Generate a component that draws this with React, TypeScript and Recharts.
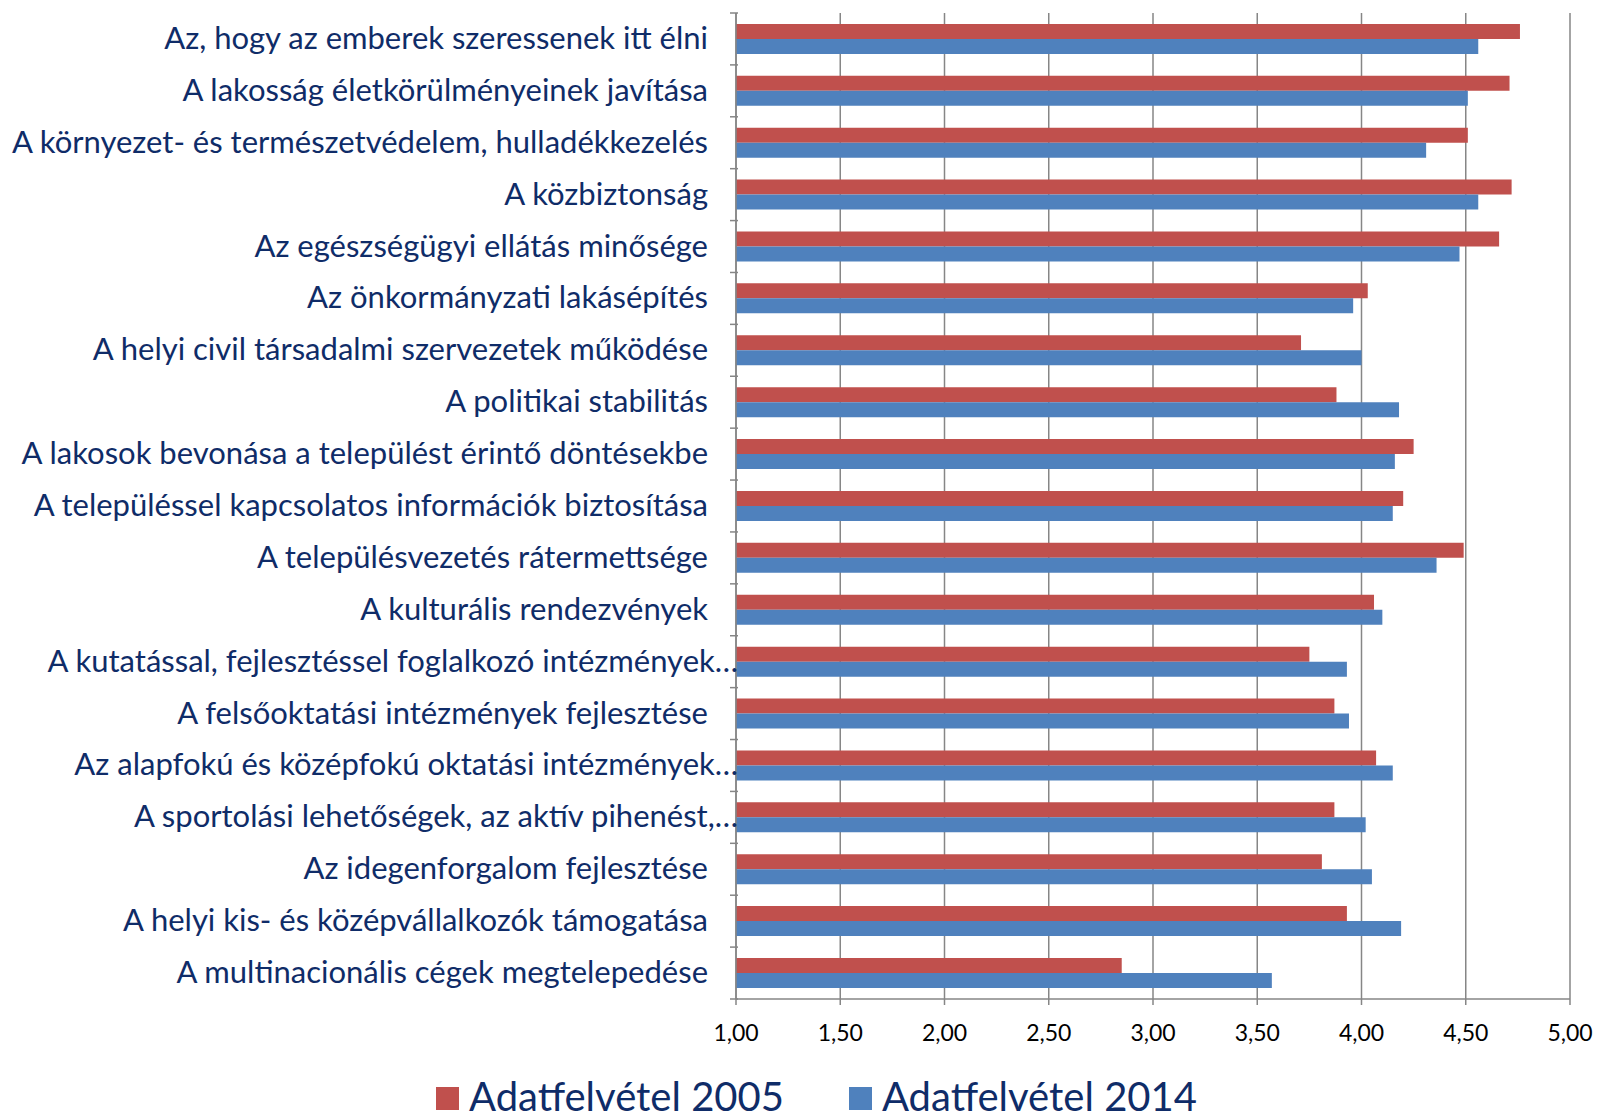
import React from 'react';
import { BarChart, Bar, XAxis, YAxis, CartesianGrid, Legend } from 'recharts';

const categories = [
  'Az, hogy az emberek szeressenek itt élni',
  'A lakosság életkörülményeinek javítása',
  'A környezet- és természetvédelem, hulladékkezelés',
  'A közbiztonság',
  'Az egészségügyi ellátás minősége',
  'Az önkormányzati lakásépítés',
  'A helyi civil társadalmi szervezetek működése',
  'A politikai stabilitás',
  'A lakosok bevonása a települést érintő döntésekbe',
  'A településsel kapcsolatos információk biztosítása',
  'A településvezetés rátermettsége',
  'A kulturális rendezvények',
  'A kutatással, fejlesztéssel foglalkozó intézmények…',
  'A felsőoktatási intézmények fejlesztése',
  'Az alapfokú és középfokú oktatási intézmények…',
  'A sportolási lehetőségek, az aktív pihenést,…',
  'Az idegenforgalom fejlesztése',
  'A helyi kis- és középvállalkozók támogatása',
  'A multinacionális cégek megtelepedése',
];

const values2005 = [4.76, 4.71, 4.51, 4.72, 4.66, 4.03, 3.71, 3.88, 4.25, 4.2, 4.49, 4.06, 3.75, 3.87, 4.07, 3.87, 3.81, 3.93, 2.85];
const values2014 = [4.56, 4.51, 4.31, 4.56, 4.47, 3.96, 4.0, 4.18, 4.16, 4.15, 4.36, 4.1, 3.93, 3.94, 4.15, 4.02, 4.05, 4.19, 3.57];

const xTicks = [1, 1.5, 2, 2.5, 3, 3.5, 4, 4.5, 5];

const seriesNames = ['Adatfelvétel 2005', 'Adatfelvétel 2014'];
const seriesColors = ['#C0504D', '#4F81BD'];

const data = categories.map((c, i) => ({ name: c, a: values2005[i], b: values2014[i] }));

const NAVY = '#0F2C68';
const FONT = 'Lato, "Open Sans", sans-serif';
const BAND = (999 - 13) / categories.length;

const YTick = (props: any) => {
  const { x, y, payload, index } = props;
  const label: string = payload.value;
  const trunc = label.endsWith('…');
  const endX = trunc ? x + 10 : x - 20;
  return (
    <g>
      <line x1={x + 2} x2={x + 10} y1={y - BAND / 2} y2={y - BAND / 2} stroke="#868686" strokeWidth={1.5} />
      {index === categories.length - 1 && (
        <line x1={x + 2} x2={x + 10} y1={y + BAND / 2} y2={y + BAND / 2} stroke="#868686" strokeWidth={1.5} />
      )}
      <text x={endX} y={y} dy={10} textAnchor="end" fill={NAVY} fontSize={31} fontFamily={FONT}>
        {label}
      </text>
    </g>
  );
};

const LegendContent = () => (
  <div style={{ display: 'flex', justifyContent: 'flex-start', alignItems: 'center', height: 60, paddingTop: 18, paddingLeft: 436, boxSizing: 'border-box' }}>
    {seriesNames.map((n, i) => (
      <div key={n} style={{ display: 'flex', alignItems: 'center', marginRight: i === 0 ? 65 : 0 }}>
        <div style={{ width: 23, height: 23, background: seriesColors[i], marginRight: 10, marginTop: 4 }} />
        <span style={{ fontFamily: FONT, fontSize: 40, color: NAVY, lineHeight: '44px' }}>{n}</span>
      </div>
    ))}
  </div>
);

export default function App() {
  return (
    <div style={{ position: 'absolute', left: 0, top: 0, background: '#fff' }}>
      <BarChart
        width={1598}
        height={1117}
        data={data}
        layout="vertical"
        margin={{ top: 13, right: 28, left: 0, bottom: 0 }}
        barCategoryGap="21%"
        barGap={0}
      >
        <CartesianGrid horizontal={false} vertical={true} stroke="#868686" strokeWidth={1.5} />
        <XAxis
          type="number"
          domain={[1, 5]}
          ticks={xTicks}
          interval={0}
          height={58}
          tickFormatter={(v: number) => v.toFixed(2).replace('.', ',')}
          tick={{ fill: '#000', fontSize: 23, fontFamily: FONT }}
          tickMargin={20}
          tickSize={6}
          stroke="#868686"
          strokeWidth={1.5}
          allowDataOverflow
        />
        <YAxis
          type="category"
          dataKey="name"
          width={736}
          tick={<YTick />}
          tickLine={false}
          stroke="#868686"
          strokeWidth={1.5}
          interval={0}
        />
        <Legend verticalAlign="bottom" height={60} content={<LegendContent />} />
        <Bar dataKey="a" name={seriesNames[0]} fill={seriesColors[0]} isAnimationActive={false} />
        <Bar dataKey="b" name={seriesNames[1]} fill={seriesColors[1]} isAnimationActive={false} />
      </BarChart>
    </div>
  );
}
